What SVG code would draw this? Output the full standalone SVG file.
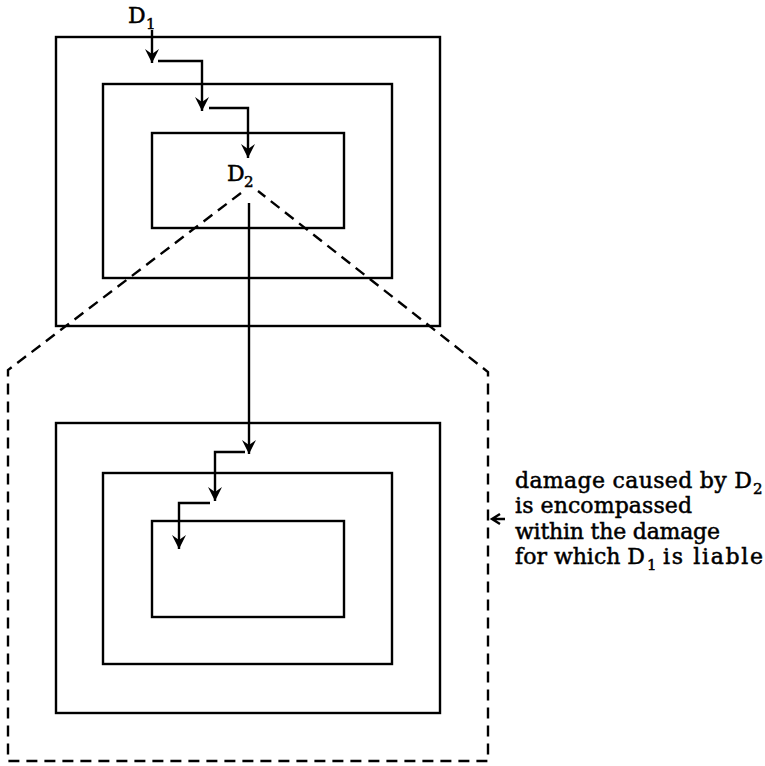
<svg xmlns="http://www.w3.org/2000/svg" width="765" height="766" viewBox="0 0 765 766">
<style>
.box{fill:none;stroke:#000;stroke-width:2.4}
.conn{fill:none;stroke:#000;stroke-width:2.4}
.dash{fill:none;stroke:#000;stroke-width:2.4;stroke-dasharray:11 7}
.lbl{font-family:"DejaVu Serif","Liberation Serif",serif;fill:#000;stroke:#000;stroke-width:0.5}
</style>
<defs>
<marker id="ah" markerUnits="userSpaceOnUse" markerWidth="16" markerHeight="16" viewBox="-14 -8 16 16" refX="0" refY="0" orient="auto">
<path d="M0,0 L-14,-7 L-9,0 L-14,7 Z" fill="#000"/>
</marker>
</defs>
<rect width="765" height="766" fill="#fff"/>
<g id="top-outer"><rect class="box" x="56" y="37" width="384" height="289"/></g>
<g id="top-middle"><rect class="box" x="103" y="84" width="289" height="194"/></g>
<g id="top-inner"><rect class="box" x="152" y="133" width="192" height="95"/></g>
<g id="bottom-outer"><rect class="box" x="56" y="423" width="384" height="290"/></g>
<g id="bottom-middle"><rect class="box" x="103" y="473" width="289" height="191"/></g>
<g id="bottom-inner"><rect class="box" x="152" y="521" width="192" height="96"/></g>
<g id="zoom-outline"><path class="dash" d="M241,193 L8,370 V761 H488 V372 L258,191"/></g>
<g id="connectors">
<path class="conn" d="M152,30 V63" marker-end="url(#ah)"/>
<path class="conn" d="M158,61 H202 V111" marker-end="url(#ah)"/>
<path class="conn" d="M209,108 H248 V158" marker-end="url(#ah)"/>
<path class="conn" d="M249,203 V454" marker-end="url(#ah)"/>
<path class="conn" d="M245,452 H215 V501" marker-end="url(#ah)"/>
<path class="conn" d="M210,503 H179 V549" marker-end="url(#ah)"/>
<path class="conn" d="M500,514 L492,519 L500,524 M492,519 H505" stroke-width="2"/>
</g>
<g id="label-d1">
<text class="lbl" x="128" y="23" font-size="22">D</text>
<text class="lbl" x="146" y="29" font-size="15">1</text>
</g>
<g id="label-d2">
<text class="lbl" x="227" y="181" font-size="22">D</text>
<text class="lbl" x="244" y="187" font-size="15">2</text>
</g>
<g id="note">
<text class="lbl" x="515" y="488" font-size="22" textLength="237" lengthAdjust="spacing">damage caused by D</text>
<text class="lbl" x="753" y="494" font-size="15">2</text>
<text class="lbl" x="515" y="513" font-size="22" textLength="177" lengthAdjust="spacing">is encompassed</text>
<text class="lbl" x="515" y="539" font-size="22" textLength="205" lengthAdjust="spacing">within the damage</text>
<text class="lbl" x="515" y="564" font-size="22" textLength="130" lengthAdjust="spacing">for which D</text>
<text class="lbl" x="647" y="570" font-size="15">1</text>
<text class="lbl" x="663" y="564" font-size="22" textLength="100" lengthAdjust="spacing">is liable</text>
</g>
</svg>
